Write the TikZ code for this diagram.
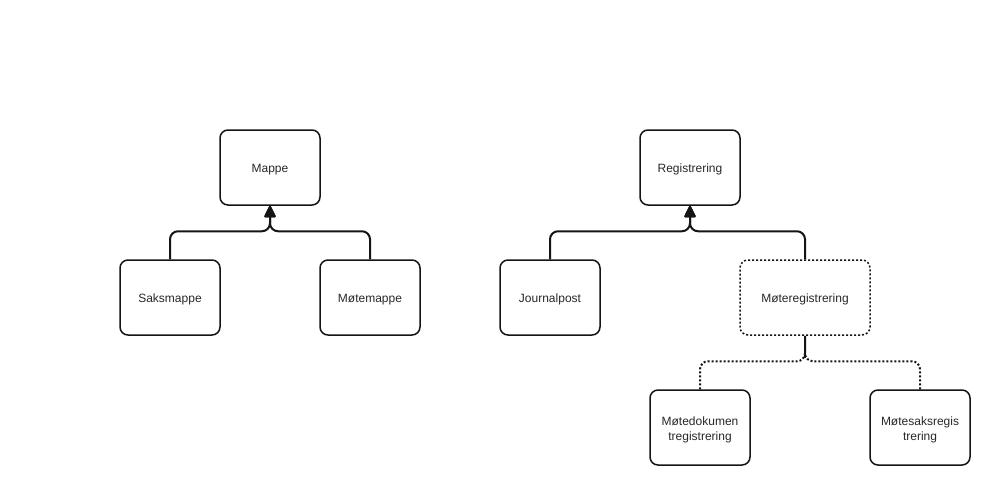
\documentclass[tikz,border=0pt]{standalone}
\usepackage{fontspec}
\setmainfont{Liberation Sans}
\usetikzlibrary{arrows.meta}
\definecolor{ink}{RGB}{20,20,20}
\definecolor{txt}{RGB}{40,40,40}
\begin{document}
\begin{tikzpicture}[x=1pt,y=-1pt,
  box/.style={draw=ink, line width=1.5pt, rounded corners=8pt, fill=white,
    minimum width=100pt, minimum height=75pt, inner sep=2pt,
    text height=12.6pt, text depth=2.6pt,
    align=center, text=txt, font=\fontsize{12}{15}\selectfont},
  twoline/.style={box, text height=27.6pt, text depth=2.6pt},
  dotbox/.style={box, dash pattern=on 2pt off 2pt},
  conn/.style={draw=ink, line width=2pt, rounded corners=8pt},
  inherit/.style={conn, -{Triangle[length=13pt,width=12pt,round]}},
  dotconn/.style={conn, dash pattern=on 2pt off 2pt}
]
\useasboundingbox (0,0) rectangle (996,485);

% folder hierarchy
\node[box] (mappe) at (270,167.5) {Mappe};
\node[box] (saks)  at (170,297.5) {Saksmappe};
\node[box] (mmappe) at (370,297.5) {Møtemappe};

\draw[inherit] (saks.north) -- ++(0,-28) -| (mappe.south);
\draw[inherit] (mmappe.north) -- ++(0,-28) -| (mappe.south);

% registration hierarchy
\node[box] (reg) at (690,167.5) {Registrering};
\node[box] (jpost) at (550,297.5) {Journalpost};
\node[dotbox, minimum width=130pt] (mreg) at (805,297.5) {Møteregistrering};
\node[twoline] (mdok) at (700,427.5) {Møtedokumen\\tregistrering};
\node[twoline] (msak) at (920,427.5) {Møtesaksregis\\trering};

\draw[inherit] (jpost.north) -- ++(0,-28) -| (reg.south);
\draw[inherit] (mreg.north) -- ++(0,-28) -| (reg.south);

\coordinate (mj) at (805,358);
\draw[conn] (mreg.south) -- (mj);
\draw[dotconn] (mdok.north) -- ++(0,-28) -| (mreg.south);
\draw[dotconn] (msak.north) -- ++(0,-28) -| (mreg.south);
\end{tikzpicture}
\end{document}
